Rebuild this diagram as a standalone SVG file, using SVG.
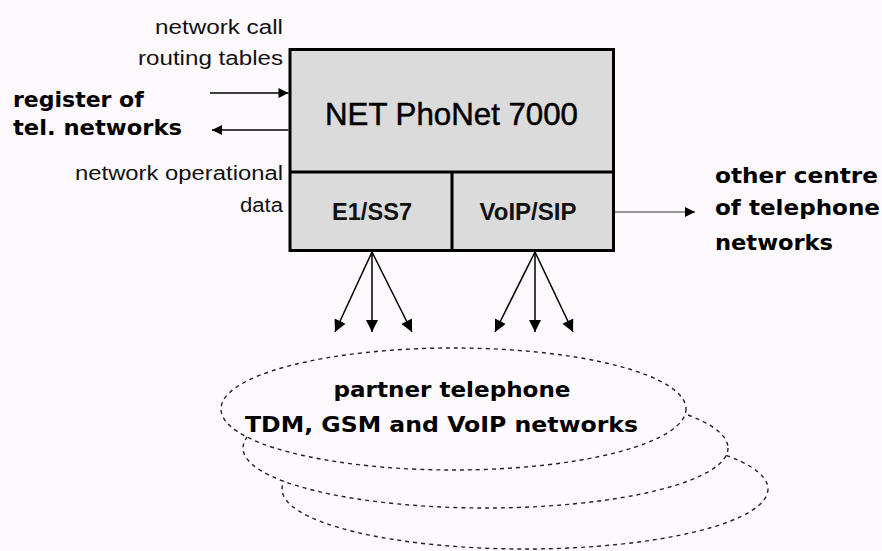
<svg xmlns="http://www.w3.org/2000/svg" width="882" height="551" viewBox="0 0 882 551">
<defs>
<marker id="ah" viewBox="0 0 10 10" refX="10" refY="5" markerWidth="11" markerHeight="10" markerUnits="userSpaceOnUse" orient="auto">
<path d="M0,0 L10,5 L0,10 z" fill="#000"/>
</marker>
<marker id="ahd" viewBox="0 0 10 10" refX="10" refY="5" markerWidth="13" markerHeight="12" markerUnits="userSpaceOnUse" orient="auto">
<path d="M0,0 L10,5 L0,10 z" fill="#000"/>
</marker>
</defs>
<style>
.bg{fill:#fef9fd}
.box{fill:#dcdbdc;stroke:#000;stroke-width:3}
.div{stroke:#000;stroke-width:3;fill:none}
.small{font-family:"Liberation Sans",Arial,sans-serif;font-size:20px;fill:#111;text-anchor:end}
.bold{font-family:"DejaVu Sans",Verdana,sans-serif;font-weight:bold;font-size:22px;fill:#000}
.title{font-family:"Liberation Sans",Arial,sans-serif;font-size:32px;fill:#000;stroke:#000;stroke-width:0.5;text-anchor:middle}
.sub{font-family:"Liberation Sans",Arial,sans-serif;font-weight:bold;font-size:23px;fill:#111;text-anchor:middle}
.cloud{fill:#fef9fd;stroke:#222;stroke-width:1.4;stroke-dasharray:4 4}
.ctext{font-family:"DejaVu Sans",Verdana,sans-serif;font-weight:bold;font-size:22px;fill:#000;text-anchor:middle}
.conn{stroke:#000;stroke-width:1.5;fill:none}
.thin{stroke:#333;stroke-width:1;fill:none}
</style>
<rect class="bg" x="0" y="0" width="882" height="551"/>

<g id="networks">
<ellipse class="cloud" cx="525" cy="489" rx="243" ry="60"/>
<ellipse class="cloud" cx="485.5" cy="448" rx="242.5" ry="60"/>
<ellipse class="cloud" cx="453.5" cy="409" rx="232.5" ry="61"/>
<text class="ctext" x="452" y="397" textLength="237" lengthAdjust="spacingAndGlyphs">partner telephone</text>
<text class="ctext" x="441.5" y="432" textLength="393" lengthAdjust="spacingAndGlyphs">TDM, GSM and VoIP networks</text>
</g>

<g id="phonet">
<rect class="box" x="290" y="49.5" width="323.5" height="201"/>
<line class="div" x1="290" y1="172" x2="613.5" y2="172"/>
<line class="div" x1="452" y1="172" x2="452" y2="250.5"/>
<text class="title" x="451.5" y="125" textLength="253" lengthAdjust="spacingAndGlyphs">NET PhoNet 7000</text>
<text class="sub" x="372" y="220" textLength="80" lengthAdjust="spacingAndGlyphs">E1/SS7</text>
<text class="sub" x="528" y="220" textLength="97" lengthAdjust="spacingAndGlyphs">VoIP/SIP</text>
</g>

<g id="register">
<text class="bold" x="13" y="107">register of</text>
<text class="bold" x="13" y="135" textLength="169" lengthAdjust="spacingAndGlyphs">tel. networks</text>
</g>

<g id="labels-left">
<text class="small" x="283" y="34" textLength="128" lengthAdjust="spacingAndGlyphs">network call</text>
<text class="small" x="283" y="65" textLength="145" lengthAdjust="spacingAndGlyphs">routing tables</text>
<text class="small" x="283" y="180" textLength="208" lengthAdjust="spacingAndGlyphs">network operational</text>
<text class="small" x="283" y="212" textLength="43" lengthAdjust="spacingAndGlyphs">data</text>
</g>

<g id="other-centre">
<text class="bold" x="715" y="183" textLength="163" lengthAdjust="spacingAndGlyphs">other centre</text>
<text class="bold" x="715" y="215" textLength="165" lengthAdjust="spacingAndGlyphs">of telephone</text>
<text class="bold" x="715" y="250" textLength="118" lengthAdjust="spacingAndGlyphs">networks</text>
</g>

<g id="connectors">
<line class="conn" x1="210" y1="93" x2="288.5" y2="93" marker-end="url(#ah)"/>
<line class="conn" x1="288.5" y1="130" x2="212" y2="130" marker-end="url(#ah)"/>
<line class="thin" x1="615" y1="212" x2="695" y2="212" marker-end="url(#ah)"/>
<line class="conn" x1="372" y1="252" x2="335" y2="332" marker-end="url(#ahd)"/>
<line class="conn" x1="372" y1="252" x2="372" y2="332" marker-end="url(#ahd)"/>
<line class="conn" x1="372" y1="252" x2="412" y2="332" marker-end="url(#ahd)"/>
<line class="conn" x1="535" y1="252" x2="495" y2="332" marker-end="url(#ahd)"/>
<line class="conn" x1="535" y1="252" x2="535" y2="332" marker-end="url(#ahd)"/>
<line class="conn" x1="535" y1="252" x2="573" y2="332" marker-end="url(#ahd)"/>
</g>
</svg>
